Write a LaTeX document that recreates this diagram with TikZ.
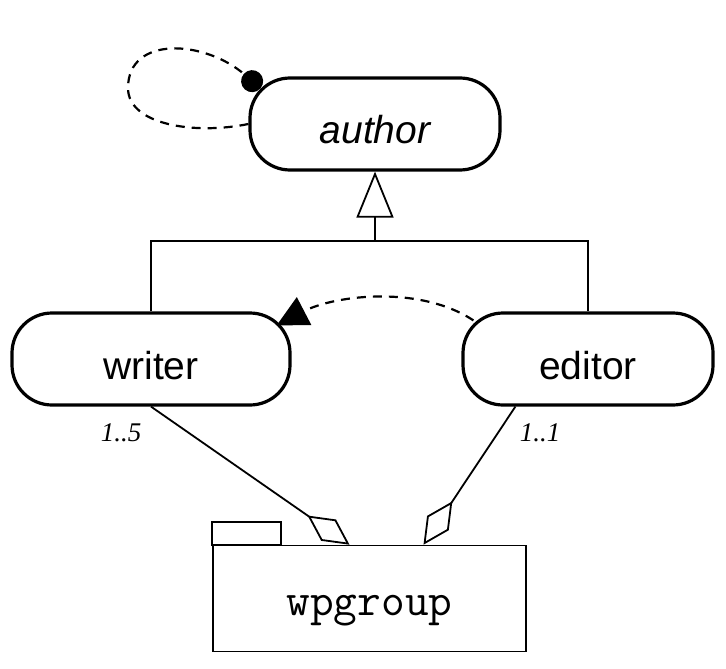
\documentclass[tikz,border=0pt]{standalone}
\usepackage{fontspec}
\newfontfamily\umlsans{Liberation Sans}
\newfontfamily\umlserif{Liberation Serif}
\usetikzlibrary{arrows.meta,calc}

\tikzset{
	classbox/.style={draw, line width=1.6pt, rounded corners=20pt, inner sep=0pt,
		minimum height=46pt, text height=20pt, text depth=0pt,
		font=\umlsans\fontsize{19.5}{23}\selectfont},
	pkgbox/.style={draw, line width=0.8pt, inner sep=0pt, minimum width=156.5pt,
		minimum height=53pt, text height=16.5pt, text depth=0pt,
		font=\ttfamily\fontsize{23}{27}\selectfont},
	mult/.style={inner sep=0pt, font=\umlserif\itshape\fontsize{13.5}{16}\selectfont},
	link/.style={line width=0.9pt},
	dep/.style={line width=1.1pt, dash pattern=on 4.5pt off 3.5pt},
}

\begin{document}
\begin{tikzpicture}[x=0.5pt, y=-0.5pt]
			%%%%% START %%%%%
			\useasboundingbox (0,0) rectangle (726,668);
			
			\node[classbox, minimum width=125pt] (author) at (375,124) {\itshape author};
			\node[classbox, minimum width=139pt] (writer) at (151,359) {writer};
			\node[classbox, minimum width=125pt] (editor) at (588,359) {editor};
			
			\node[pkgbox] (wpgroup) at (369.5,598.5) {wpgroup};
			\draw[link] (wpgroup.north west) rectangle ++(69,-23);
			
			% inheritance
			\coordinate (hub) at (375,241);
			\draw[link, -{Triangle[open, length=23pt, width=18.5pt]}] (hub) -- (author.south);
			\draw[link] (writer.north) |- (hub) -| (editor.north);
			
			% self loop
			\draw[dep, -{Circle[length=11pt]}] (author.west) .. controls (195,135) and (128,125) .. (128,88)
				.. controls (128,35) and (205,40) .. ($(author.north west)+(12,12)$);
			
			% editor to writer
			\draw[dep, -{Triangle[length=15.5pt, width=15.5pt]}] ($(editor.north west)+(12,9)$)
				.. controls (420,285) and (335,295) .. ($(writer.north east)+(-15,14)$);
			
			% aggregations
			\draw[link, -{Diamond[open, length=25.5pt, width=13pt]}] (writer.south) -- ($(wpgroup.north)+(-20,0)$);
			\draw[link, -{Diamond[open, length=26pt, width=13pt]}] ($(editor.south west)+(54,0)$) -- ($(wpgroup.north)+(54,0)$);
			
			\node[mult] (wrmult) at (121,433) {1..5};
			\node[mult] (edmult) at (540,433) {1..1};
			
			%%%%% END %%%%%
\end{tikzpicture}
\end{document}
